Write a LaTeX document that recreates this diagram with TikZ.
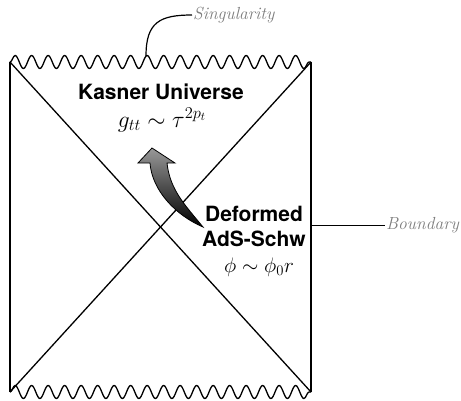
\documentclass[tikz,border=0pt]{standalone}
\usepackage{fix-cm}
\usepackage{fontspec}
\usepackage{tikz}
\usetikzlibrary{positioning, arrows.meta, decorations.pathmorphing, calc}
\newfontfamily\heros{TeX Gyre Heros}
\definecolor{labelgray}{RGB}{125, 125, 125}
\tikzset{
  % bold region title
  region/.style={
    font=\heros\bfseries\fontsize{21pt}{25pt}\selectfont,
    align=center, anchor=base, inner sep=0pt
  },
  % formula under a title
  formula/.style={font=\fontsize{21pt}{25pt}\selectfont, anchor=base, inner sep=0pt},
  % side label
  tag/.style={
    font=\itshape\fontsize{17.5pt}{20pt}\selectfont,
    text=labelgray, anchor=west, inner sep=1pt
  },
  % singular edge
  wave/.style={
    decorate, line width=1.3pt,
    decoration={snake, segment length=16.5pt, amplitude=6.5pt}
  },
  edge/.style={line width=1.3pt},
  pointer/.style={line width=1.2pt},
}

\begin{document}
\begin{tikzpicture}[x=1pt, y=-1pt]
  \useasboundingbox (0,0) rectangle (461,400);
  % corners of the diagram
  \coordinate (tl) at (10,62);
  \coordinate (tr) at (311,62);
  \coordinate (bl) at (10,392);
  \coordinate (br) at (311,392);
  \draw[edge] (tl) -- (bl);
  \draw[edge] (tr) -- (br);
  \draw[edge] (tl) -- (br);
  \draw[edge] (tr) -- (bl);
  \draw[wave] (tl) -- (tr);
  \draw[wave] (bl) -- (br);
  % texts
  \node[region] (kasner) at (161,99) {Kasner Universe};
  \node[formula, font=\fontsize{23.5pt}{28pt}\selectfont] (gtt) at (162,127) {$g_{tt}\sim\tau^{2p_t}$};
  \node[region] (ads) at (254,246) {Deformed\\AdS-Schw};
  \node[formula] (phi) at (259,272) {$\phi\sim\phi_0 r$};
  % curved fat arrow
  \shade[top color=black!40, bottom color=black, draw=black, line width=0.8pt]
    (203,227) .. controls (185,205) and (170,190) .. (167,163)
    -- (175,163) -- (152,148) -- (138,163) -- (150,163)
    .. controls (152,190) and (175,215) .. (203,227) -- cycle;
  % labels
  \coordinate (sing) at (146,56);
  \node[tag] (singlabel) at (192,15) {Singularity};
  \draw[pointer] (sing) .. controls (146,22) and (160,15) .. (singlabel.west);
  \coordinate (bdry) at (311,225);
  \node[tag] (bdrylabel) at (385,225) {Boundary};
  \draw[line width=0.8pt] (bdry) -- (bdrylabel.west);
\end{tikzpicture}
\end{document}
